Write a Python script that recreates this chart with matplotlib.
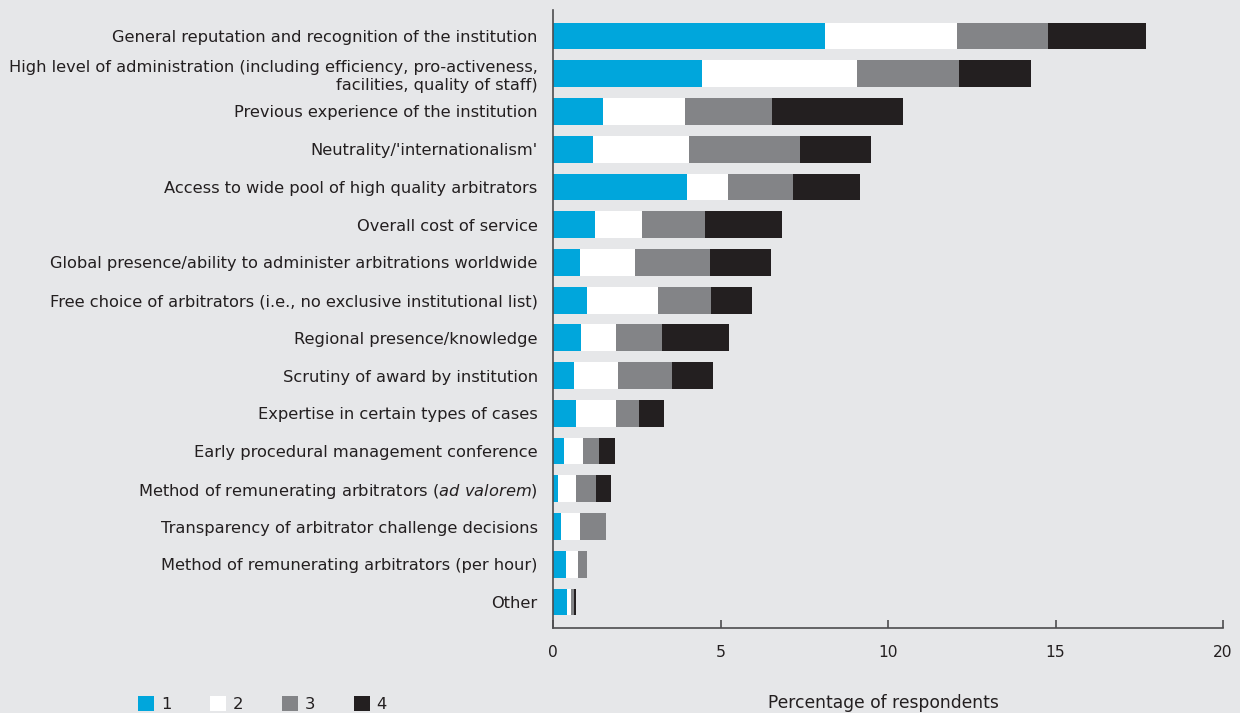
import matplotlib
matplotlib.use("Agg")
import matplotlib.pyplot as plt
from matplotlib.patches import Patch
import numpy as np

plt.rcParams['font.family'] = ['DejaVu Sans']
plt.rcParams['mathtext.fontset'] = 'dejavusans'

categories = [
    "General reputation and recognition of the institution",
    "High level of administration (including efficiency, pro-activeness,\nfacilities, quality of staff)",
    "Previous experience of the institution",
    "Neutrality/'internationalism'",
    "Access to wide pool of high quality arbitrators",
    "Overall cost of service",
    "Global presence/ability to administer arbitrations worldwide",
    "Free choice of arbitrators (i.e., no exclusive institutional list)",
    "Regional presence/knowledge",
    "Scrutiny of award by institution",
    "Expertise in certain types of cases",
    "Early procedural management conference",
    "Method of remunerating arbitrators ($\\it{ad\\ valorem}$)",
    "Transparency of arbitrator challenge decisions",
    "Method of remunerating arbitrators (per hour)",
    "Other",
]
rank1 = [8.13, 4.46, 1.48, 1.18, 3.99, 1.24, 0.82, 1.00, 0.85, 0.64, 0.70, 0.32, 0.14, 0.23, 0.38, 0.41]
rank2 = [3.92, 4.61, 2.45, 2.89, 1.22, 1.43, 1.62, 2.12, 1.02, 1.29, 1.17, 0.59, 0.56, 0.59, 0.38, 0.12]
rank3 = [2.72, 3.04, 2.62, 3.30, 1.94, 1.86, 2.26, 1.61, 1.37, 1.61, 0.69, 0.45, 0.57, 0.75, 0.24, 0.09]
rank4 = [2.93, 2.17, 3.89, 2.11, 2.00, 2.32, 1.80, 1.20, 2.00, 1.25, 0.74, 0.48, 0.45, 0.00, 0.00, 0.06]
series_labels = ["1", "2", "3", "4"]
colors = ["#00A6DC", "#FFFFFF", "#838487", "#231F20"]
xticks = [0, 5, 10, 15, 20]

FS = 11.7
bg = "#E6E7E9"
txt = "#231F20"
fig = plt.figure(figsize=(12.4, 7.13), dpi=100, facecolor=bg)
ax = fig.add_axes([553/1240, 1-628/713, 670/1240, 618/713])
ax.set_facecolor(bg)

y = np.arange(len(categories))
left = np.zeros(len(categories))
handles = []
for vals, col, lab in zip([rank1, rank2, rank3, rank4], colors, series_labels):
    ax.barh(y, vals, left=left, height=0.71, color=col, edgecolor='none', label=lab)
    left += np.array(vals)
    handles.append(Patch(facecolor=col, edgecolor='none', label=lab))

ax.set_ylim(len(categories) - 1 + 0.69, -0.69)
ax.set_xlim(0, 20)
ax.set_xticks(xticks)
ax.set_xticklabels([str(t) for t in xticks])
ax.set_yticks(y)
ax.set_yticklabels(categories)

for s in ['top', 'right']:
    ax.spines[s].set_visible(False)
for s in ['left', 'bottom']:
    ax.spines[s].set_color('#4D4D4F')
    ax.spines[s].set_linewidth(1.2)

ax.tick_params(axis='y', length=0, pad=11, labelsize=FS, labelcolor=txt)
ax.tick_params(axis='x', direction='in', length=6, width=1.2, color='#4D4D4F',
               pad=12, labelsize=11.2, labelcolor=txt)

fig.text(883/1240, 1-703/713, "Percentage of respondents", ha='center', va='center',
         fontsize=12.3, color=txt)

leg = fig.legend(handles=handles, loc='center left', bbox_to_anchor=(138/1240, 1-704/713),
                 ncol=4, frameon=False, fontsize=11.8, handlelength=1.0, handleheight=1.0,
                 handletextpad=0.4, columnspacing=2.35, borderpad=0, borderaxespad=0,
                 labelcolor=txt)

fig.savefig("out.png", dpi=100, facecolor=bg)
